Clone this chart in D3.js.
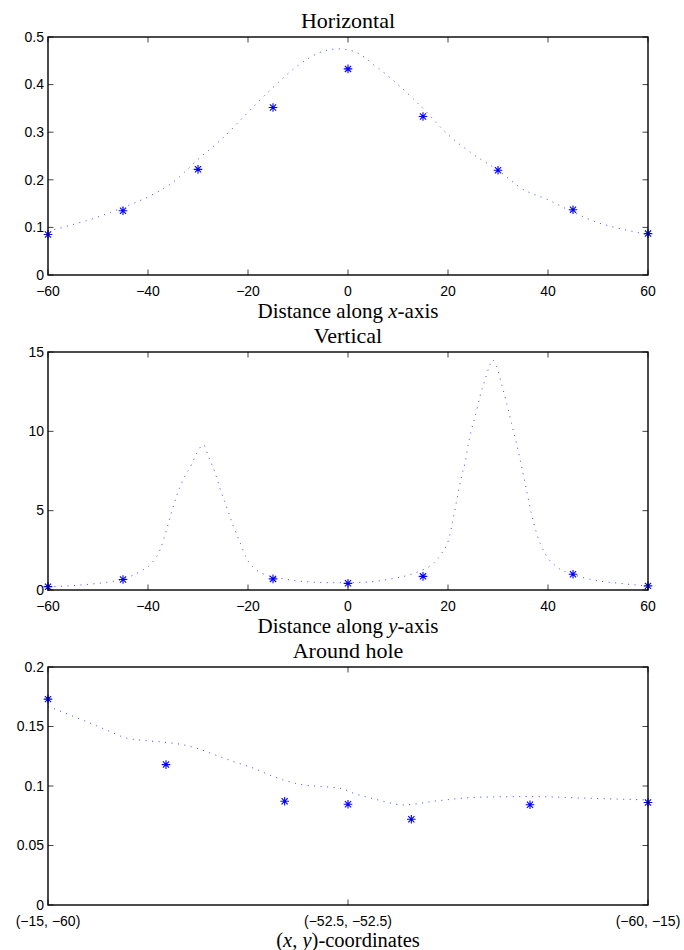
<!DOCTYPE html>
<html><head><meta charset="utf-8">
<script src="https://cdn.jsdelivr.net/npm/d3@7"></script>
<style>
html,body{margin:0;padding:0;background:#fff;}
svg{display:block;}
</style></head>
<body>
<svg id="chart" width="684" height="950"></svg>
<script>
// ---------- DATA ----------
// Panel 1: Horizontal
const horizStarX = [-60, -45, -30, -15, 0, 15, 30, 45, 60];
const horizStarY = [0.085, 0.135, 0.222, 0.352, 0.433, 0.333, 0.220, 0.137, 0.087];
const horizCurveX = [-60, -55, -50, -45, -40, -35, -30, -25, -20, -15, -10, -5, -2, 0, 2, 5, 10, 15, 20, 25, 30, 35, 40, 45, 50, 55, 60];
const horizCurveY = [0.092, 0.106, 0.122, 0.142, 0.164, 0.195, 0.243, 0.288, 0.342, 0.394, 0.440, 0.470, 0.475, 0.473, 0.466, 0.443, 0.400, 0.350, 0.295, 0.254, 0.220, 0.180, 0.158, 0.132, 0.110, 0.096, 0.085];
const horizXTicks = [-60, -40, -20, 0, 20, 40, 60];
const horizYTicks = [0, 0.1, 0.2, 0.3, 0.4, 0.5];

// Panel 2: Vertical
const vertStarX = [-60, -45, -15, 0, 15, 45, 60];
const vertStarY = [0.21, 0.66, 0.70, 0.42, 0.86, 0.99, 0.26];
const vertCurveX = [-60, -55, -50, -47.6, -45, -42.9, -41.6, -39.3, -37.6, -36.3, -35.3, -34.3, -32.9, -31.3, -30.3, -28.9, -27.9, -26.6, -25.6, -24.3, -22.9, -21.6, -20.3, -18.3, -16.3, -13.6, -8.3, -2.9, 2.7, 8.1, 12.1, 14.4, 17.1, 18.7, 20.1, 21.1, 21.9, 22.7, 23.4, 24.1, 24.7, 25.4, 26.4, 27.4, 28.4, 28.9, 29.7, 30.7, 31.7, 32.7, 33.7, 34.7, 35.7, 36.7, 37.7, 39.4, 41.7, 44.9, 49.1, 54.4, 60];
const vertCurveY = [0.20, 0.28, 0.42, 0.52, 0.68, 0.95, 1.16, 1.68, 2.52, 3.8, 4.9, 5.9, 7.0, 7.9, 8.6, 9.15, 8.4, 7.4, 6.4, 5.25, 4.0, 3.0, 2.0, 1.26, 0.94, 0.74, 0.52, 0.46, 0.48, 0.67, 0.94, 1.2, 1.68, 2.3, 3.15, 4.6, 5.9, 7.15, 8.0, 9.25, 10.1, 10.9, 12.2, 13.25, 14.2, 14.5, 14.1, 13.0, 11.8, 10.5, 9.25, 7.8, 6.3, 4.8, 3.6, 2.3, 1.47, 1.0, 0.63, 0.42, 0.25];
const vertXTicks = [-60, -40, -20, 0, 20, 40, 60];
const vertYTicks = [0, 5, 10, 15];

// Panel 3: Around hole (position along the hole boundary, 0..90)
const holeStarS = [0, 17.7, 35.5, 45, 54.5, 72.3, 90];
const holeStarY = [0.173, 0.118, 0.0872, 0.0847, 0.0721, 0.0842, 0.0861];
const holeCurveS = [0, 3.8, 6.55, 9.3, 11.3, 14.3, 17.3, 20.3, 22.3, 25.05, 27.8, 30.8, 33.8, 35.55, 38.3, 41.3, 43.8, 45.8, 49.1, 53.4, 58.3, 64.8, 72.3, 81.2, 90];
const holeCurveY = [0.167, 0.1585, 0.1523, 0.1458, 0.1411, 0.1383, 0.1369, 0.1346, 0.1318, 0.1262, 0.1206, 0.115, 0.108, 0.1046, 0.101, 0.0995, 0.0982, 0.094, 0.0889, 0.0841, 0.0875, 0.0906, 0.0911, 0.0897, 0.0883];
const holeXTicks = [0, 45, 90];
const holeXTickLabels = ["(\u221215, \u221260)", "(\u221252.5, \u221252.5)", "(\u221260, \u221215)"];
const holeYTicks = [0, 0.05, 0.1, 0.15, 0.2];

// ---------- DRAW ----------
const svg = d3.select("#chart");
const L = 48, R = 648, H = 238;
const serif = "'Liberation Serif','Times New Roman',serif";
const sans = "'Liberation Sans',Arial,Helvetica,sans-serif";
const blue = "#0000ff";

function fmtNum(v){
  return String(v).replace("-", "\u2212");
}

function panel(opt){
  const top = opt.top, bottom = top + H;
  const x = d3.scaleLinear().domain(opt.xDomain).range([L, R]);
  const y = d3.scaleLinear().domain(opt.yDomain).range([bottom, top]);
  const g = svg.append("g");

  // curve (dotted)
  const pts = opt.curveX.map((v,i)=>[v, opt.curveY[i]]);
  g.append("path")
    .attr("d", d3.line().x(d=>x(d[0])).y(d=>y(d[1])).curve(d3.curveMonotoneX)(pts))
    .attr("fill","none").attr("stroke",blue).attr("stroke-width",1)
    .attr("stroke-opacity",0.75).attr("stroke-dasharray","1,5.5");

  // stars
  const r = 4.3, dd = 3.1;
  const star = `M${-r},0H${r}M0,${-r}V${r}M${-dd},${-dd}L${dd},${dd}M${-dd},${dd}L${dd},${-dd}`;
  opt.starX.forEach((v,i)=>{
    g.append("path").attr("d", star)
      .attr("transform", `translate(${x(v)},${y(opt.starY[i])})`)
      .attr("fill","none").attr("stroke",blue).attr("stroke-width",1.1);
  });

  // ticks (inside, mirrored)
  const tl = 5.5;
  const tg = g.append("g").attr("stroke","#444").attr("stroke-width",1);
  opt.xTicks.forEach(t=>{
    tg.append("line").attr("x1",x(t)).attr("x2",x(t)).attr("y1",bottom).attr("y2",bottom-tl);
    tg.append("line").attr("x1",x(t)).attr("x2",x(t)).attr("y1",top).attr("y2",top+tl);
  });
  opt.yTicks.forEach(t=>{
    tg.append("line").attr("x1",L).attr("x2",L+tl).attr("y1",y(t)).attr("y2",y(t));
    tg.append("line").attr("x1",R).attr("x2",R-tl).attr("y1",y(t)).attr("y2",y(t));
  });

  // box
  g.append("rect").attr("x",L).attr("y",top).attr("width",R-L).attr("height",H)
    .attr("fill","none").attr("stroke","#000").attr("stroke-width",1.4);

  // tick labels
  opt.xTicks.forEach((t,i)=>{
    g.append("text").attr("x",x(t)).attr("y",bottom+20.5)
      .attr("text-anchor","middle").attr("font-family",sans).attr("font-size",14)
      .text(opt.xTickLabels ? opt.xTickLabels[i] : fmtNum(t));
  });
  opt.yTicks.forEach(t=>{
    g.append("text").attr("x",L-4).attr("y",y(t)).attr("dy","0.34em")
      .attr("text-anchor","end").attr("font-family",sans).attr("font-size",14)
      .text(fmtNum(t));
  });

  // title
  g.append("text").attr("x",(L+R)/2).attr("y",top-9.5)
    .attr("text-anchor","middle").attr("font-family",serif).attr("font-size",22)
    .text(opt.title);

  // x label
  const xl = g.append("text").attr("x",(L+R)/2).attr("y",bottom+opt.xLabelOffset)
    .attr("text-anchor","middle").attr("font-family",serif).attr("font-size",opt.xLabelSize);
  opt.xLabel.forEach(p=>{
    xl.append("tspan").attr("font-style", p[1] ? "italic" : "normal").text(p[0]);
  });
}

panel({top:37, xDomain:[-60,60], yDomain:[0,0.5],
  curveX:horizCurveX, curveY:horizCurveY, starX:horizStarX, starY:horizStarY,
  xTicks:horizXTicks, yTicks:horizYTicks, title:"Horizontal",
  xLabel:[["Distance along ",false],["x",true],["-axis",false]], xLabelOffset:42.5, xLabelSize:21});

panel({top:352, xDomain:[-60,60], yDomain:[0,15],
  curveX:vertCurveX, curveY:vertCurveY, starX:vertStarX, starY:vertStarY,
  xTicks:vertXTicks, yTicks:vertYTicks, title:"Vertical",
  xLabel:[["Distance along ",false],["y",true],["-axis",false]], xLabelOffset:42.5, xLabelSize:21});

panel({top:667, xDomain:[0,90], yDomain:[0,0.2],
  curveX:holeCurveS, curveY:holeCurveY, starX:holeStarS, starY:holeStarY,
  xTicks:holeXTicks, xTickLabels:holeXTickLabels, yTicks:holeYTicks, title:"Around hole",
  xLabel:[["(",false],["x",true],[", ",false],["y",true],[")-coordinates",false]], xLabelOffset:42, xLabelSize:20.5});
</script>
</body></html>
